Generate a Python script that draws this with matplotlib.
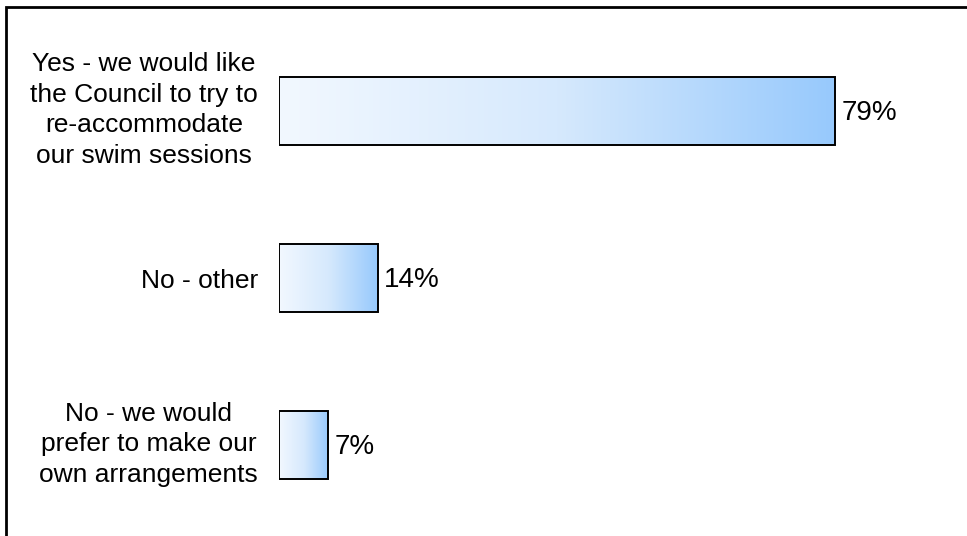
import numpy as np
import matplotlib.pyplot as plt
from matplotlib.colors import LinearSegmentedColormap
from matplotlib.patches import Rectangle

plt.rcParams['font.family'] = ['Liberation Sans', 'DejaVu Sans']

categories = [
    "Yes - we would like\nthe Council to try to\nre-accommodate\nour swim sessions",
    "No - other",
    "No - we would\nprefer to make our\nown arrangements",
]
values = [79, 14, 7]

W, H = 967, 536
fig = plt.figure(figsize=(W / 100, H / 100), dpi=100)
ax = fig.add_axes([279 / W, 0.0, 1 - 279 / W, 1.0])

# outer frame, right/bottom edges fall outside the image
top = 1 - 7 / H
frame = Rectangle((6 / W, -0.2), 1.5, top + 0.2, transform=fig.transFigure,
                  fill=False, edgecolor="black", linewidth=2, clip_on=False)
fig.patches.append(frame)

grad = LinearSegmentedColormap.from_list("bar", ["#f2f8ff", "#d6e9fd", "#97c9fc"])
ramp = np.linspace(0, 1, 256).reshape(1, -1)

ypos = np.arange(len(values))
h = 0.41
for y, v, lab in zip(ypos, values, categories):
    bar = ax.barh(y, v, height=h, left=0, color="none", edgecolor="black", linewidth=1.4, zorder=3)[0]
    img = ax.imshow(ramp, cmap=grad, aspect="auto", extent=(0, v, y + h / 2, y - h / 2), zorder=2)
    img.set_clip_path(bar)
    ax.text(v + 0.9, y + 0.01, f"{v}%", va="center", ha="left", fontsize=20)
    dy = 0.02 if "\n" not in lab else -0.005
    ax.text(-3.0, y + dy, lab, va="center", ha="right", multialignment="center",
            fontsize=19, linespacing=1.35)

ax.set_xlim(0, (W - 279) / 7.04)
ax.set_ylim(2 + (H - 445) / 167, -111 / 167)
ax.axis("off")

fig.savefig("out.png", dpi=100)
